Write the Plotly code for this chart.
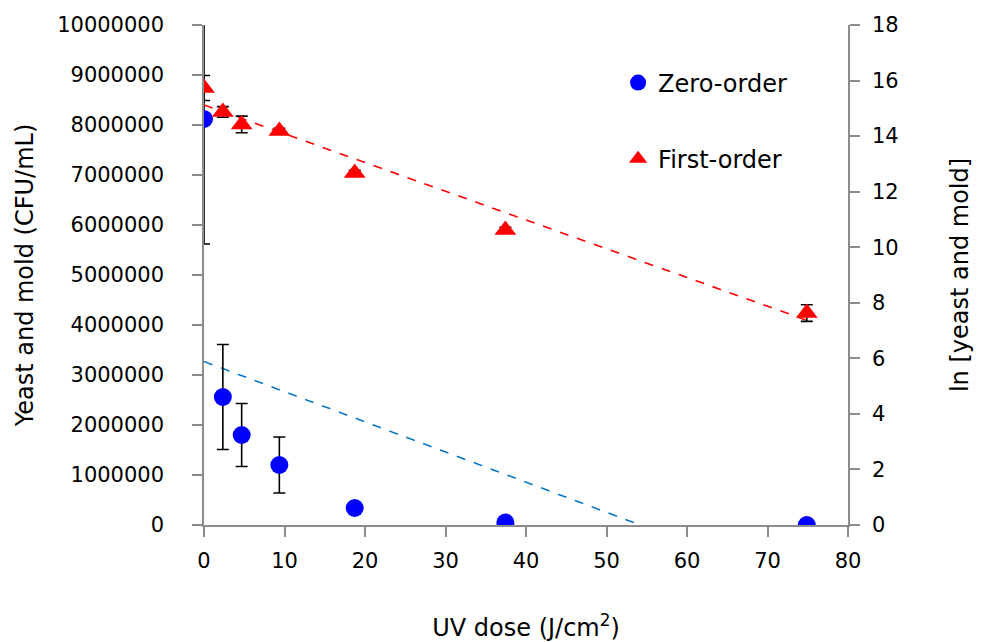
import plotly.graph_objects as go

# Data
uv_dose = [0, 2.34, 4.68, 9.36, 18.72, 37.44, 74.88]
zero_order = [8120000, 2560000, 1800000, 1200000, 340000, 50000, 0]
zero_err = [2500000, 1050000, 630000, 560000, 0, 0, 0]
first_order = [15.73, 14.87, 14.42, 14.18, 12.67, 10.62, 7.63]
first_err = [0.45, 0.19, 0.3, 0.1, 0.1, 0.1, 0.3]

zero_fit_x = [0, 54.2]
zero_fit_y = [3270000, 0]
first_fit_x = [0, 74.88]
first_fit_y = [15.12, 7.37]

x_ticks = [0, 10, 20, 30, 40, 50, 60, 70, 80]
y_ticks = [0, 1000000, 2000000, 3000000, 4000000, 5000000, 6000000, 7000000, 8000000, 9000000, 10000000]
y2_ticks = [0, 2, 4, 6, 8, 10, 12, 14, 16, 18]

FONT = "DejaVu Sans"
AX = "#8c8c8c"

fig = go.Figure()

fig.add_trace(go.Scatter(x=zero_fit_x, y=zero_fit_y, mode="lines",
                         line=dict(color="#0a78c8", width=1.6, dash="dash"),
                         showlegend=False, hoverinfo="skip"))
fig.add_trace(go.Scatter(x=first_fit_x, y=first_fit_y, mode="lines", yaxis="y2",
                         line=dict(color="#ff0000", width=1.6, dash="dash"),
                         showlegend=False, hoverinfo="skip"))

# error bars (drawn beneath the markers)
fig.add_trace(go.Scatter(x=uv_dose, y=zero_order, mode="markers",
                         marker=dict(size=1, opacity=0), showlegend=False, hoverinfo="skip",
                         error_y=dict(type="data", array=zero_err, color="black",
                                      thickness=1.6, width=6)))
fig.add_trace(go.Scatter(x=uv_dose, y=first_order, mode="markers", yaxis="y2",
                         marker=dict(size=1, opacity=0), showlegend=False, hoverinfo="skip",
                         error_y=dict(type="data", array=first_err, color="black",
                                      thickness=1.6, width=6)))

# markers
fig.add_trace(go.Scatter(x=uv_dose, y=zero_order, mode="markers", name="Zero-order",
                         legendgroup="a",
                         marker=dict(symbol="circle", size=18, color="#0000ff")))
fig.add_trace(go.Scatter(x=uv_dose, y=first_order, mode="markers", name="First-order",
                         yaxis="y2", legendgroup="b",
                         marker=dict(symbol="triangle-up", size=19, color="#ff0000")))

axis_common = dict(showgrid=False, zeroline=False, showline=True, linecolor=AX,
                   linewidth=1.5, ticks="outside", tickcolor=AX, tickwidth=1.5,
                   ticklen=10, automargin=False,
                   tickfont=dict(family=FONT, size=21, color="black"))

fig.update_layout(
    width=987, height=642,
    margin=dict(l=204, r=139, t=25, b=117),
    paper_bgcolor="white", plot_bgcolor="white",
    font=dict(family=FONT, size=21, color="black"),
    xaxis=dict(range=[0, 80], tickvals=x_ticks, ticktext=[str(v) for v in x_ticks],
               title=dict(text="UV dose (J/cm<sup>2</sup>)", standoff=48,
                          font=dict(family=FONT, size=24)),
               ticklabelstandoff=6, **axis_common),
    yaxis=dict(range=[0, 10000000], tickvals=y_ticks, ticktext=[str(v) for v in y_ticks],
               title=dict(text="Yeast and mold (CFU/mL)", standoff=17,
                          font=dict(family=FONT, size=24)),
               ticklabelstandoff=24, **axis_common),
    yaxis2=dict(range=[0, 18], tickvals=y2_ticks, ticktext=[str(v) for v in y2_ticks],
                overlaying="y", side="right",
                title=dict(text="ln [yeast and mold]", standoff=54,
                           font=dict(family=FONT, size=24)),
                ticklabelstandoff=8, **axis_common),
    legend=dict(x=0.643, y=0.929, xanchor="left", yanchor="top",
                bgcolor="rgba(0,0,0,0)", tracegroupgap=42,
                font=dict(family=FONT, size=24)),
    showlegend=True,
)

fig.write_html("out.html")
